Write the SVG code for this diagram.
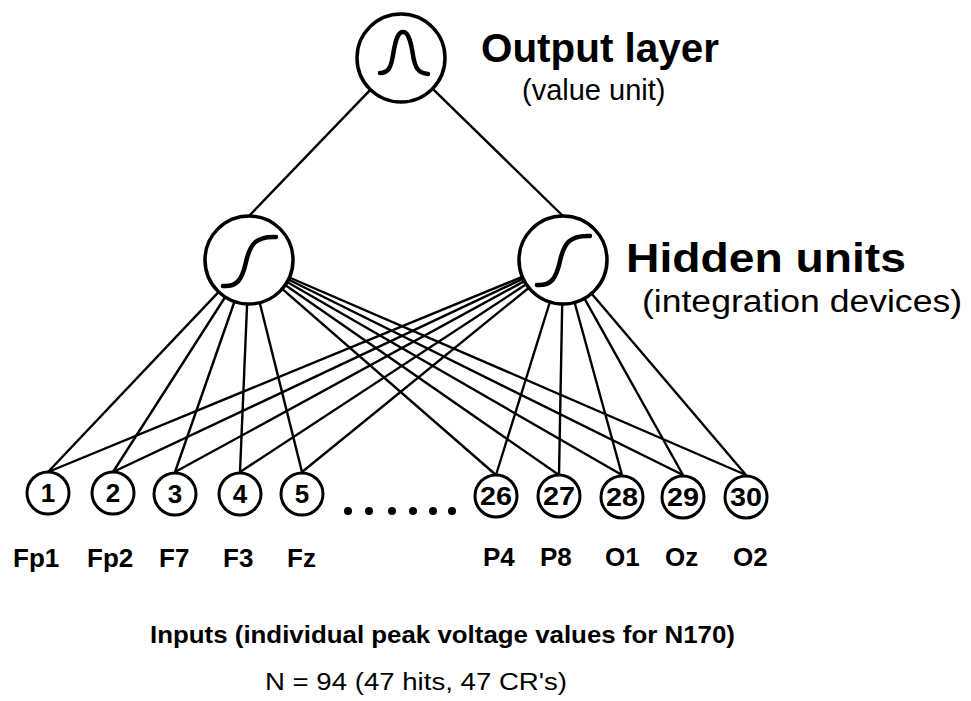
<svg xmlns="http://www.w3.org/2000/svg" width="971" height="701" viewBox="0 0 971 701">
<style>
.big{fill:#fff;stroke:#000;stroke-width:3.5}
.small{fill:#fff;stroke:#000;stroke-width:3}
.fn{fill:none;stroke:#000;stroke-width:4.5;stroke-linecap:round;stroke-linejoin:round}
.num{font-family:"Liberation Sans",Arial,sans-serif;font-weight:bold;font-size:26px;text-anchor:middle}
.lab{font-family:"Liberation Sans",Arial,sans-serif;font-weight:bold;font-size:26px}
.title{font-family:"Liberation Sans",Arial,sans-serif;font-weight:bold}
.sub{font-family:"Liberation Sans",Arial,sans-serif}
#connectors line{stroke:#000;stroke-width:2.4}
</style>
<rect width="971" height="701" fill="#fff"/>
<g id="connectors">
<line x1="370.5" y1="89.7" x2="249" y2="216"/>
<line x1="432.5" y1="88.7" x2="563" y2="216"/>
<line x1="218.7" y1="291.9" x2="48" y2="472"/>
<line x1="225.2" y1="297" x2="113" y2="472"/>
<line x1="234.5" y1="301.5" x2="175" y2="472"/>
<line x1="247.1" y1="304" x2="240" y2="472"/>
<line x1="259.7" y1="302.7" x2="302" y2="472"/>
<line x1="282.2" y1="288.9" x2="496" y2="475"/>
<line x1="285.2" y1="285.1" x2="559" y2="475"/>
<line x1="287.1" y1="282" x2="622" y2="475"/>
<line x1="288.4" y1="279.5" x2="683" y2="475"/>
<line x1="289.4" y1="277.5" x2="746" y2="475"/>
<line x1="522.3" y1="276.8" x2="48" y2="472"/>
<line x1="523.2" y1="278.7" x2="113" y2="472"/>
<line x1="524.4" y1="281.1" x2="175" y2="472"/>
<line x1="526.2" y1="284.2" x2="240" y2="472"/>
<line x1="528.9" y1="287.7" x2="302" y2="472"/>
<line x1="549.9" y1="302" x2="496" y2="475"/>
<line x1="562.2" y1="304" x2="559" y2="475"/>
<line x1="574.6" y1="302.5" x2="622" y2="475"/>
<line x1="584.4" y1="298.4" x2="683" y2="475"/>
<line x1="591.5" y1="293.5" x2="746" y2="475"/>
</g>
<g id="output">
<circle class="big" cx="401" cy="58" r="44"/>
<path class="fn" d="M380,73 C388,73 391,68 393,55 C396,36 399,32 403,32 C407,32 410,36 413,55 C415,68 418,73 428,74"/>
<text class="title" x="481" y="62" font-size="41" textLength="238" lengthAdjust="spacingAndGlyphs">Output layer</text>
<text class="sub" x="522" y="100" font-size="29">(value unit)</text>
</g>
<g id="hidden1">
<circle class="big" cx="249" cy="260" r="44"/>
<path class="fn" d="M223,286 C237,287 242,280 246,262 C250,244 256,236 276,237"/>
</g>
<g id="hidden2">
<circle class="big" cx="563" cy="260" r="44"/>
<path class="fn" d="M537,285 C551,286 556,279 560,261 C564,243 570,235 590,236"/>
<text class="title" x="626" y="272" font-size="40" textLength="280" lengthAdjust="spacingAndGlyphs">Hidden units</text>
<text class="sub" x="642" y="312" font-size="31" textLength="320" lengthAdjust="spacingAndGlyphs">(integration devices)</text>
</g>
<g id="in1"><circle class="small" cx="48" cy="493" r="21"/><text class="num" x="48" y="502">1</text></g>
<g id="in2"><circle class="small" cx="113" cy="493" r="21"/><text class="num" x="113" y="502">2</text></g>
<g id="in3"><circle class="small" cx="175" cy="494" r="21"/><text class="num" x="175" y="503">3</text></g>
<g id="in4"><circle class="small" cx="240" cy="494" r="21"/><text class="num" x="240" y="503">4</text></g>
<g id="in5"><circle class="small" cx="302" cy="494" r="21"/><text class="num" x="302" y="503">5</text></g>
<g id="ellipsis">
<circle cx="348" cy="511" r="4"/><circle cx="369" cy="511" r="4"/><circle cx="392" cy="511" r="4"/><circle cx="413" cy="511" r="4"/><circle cx="433" cy="511" r="4"/><circle cx="452" cy="511" r="4"/>
</g>
<g id="in26"><circle class="small" cx="496" cy="496" r="21"/><text class="num" x="496" y="505" textLength="32" lengthAdjust="spacingAndGlyphs">26</text></g>
<g id="in27"><circle class="small" cx="559" cy="496" r="21"/><text class="num" x="559" y="505" textLength="32" lengthAdjust="spacingAndGlyphs">27</text></g>
<g id="in28"><circle class="small" cx="622" cy="497" r="21"/><text class="num" x="622" y="506" textLength="32" lengthAdjust="spacingAndGlyphs">28</text></g>
<g id="in29"><circle class="small" cx="683" cy="497" r="21"/><text class="num" x="683" y="506" textLength="32" lengthAdjust="spacingAndGlyphs">29</text></g>
<g id="in30"><circle class="small" cx="746" cy="497" r="21"/><text class="num" x="746" y="506" textLength="32" lengthAdjust="spacingAndGlyphs">30</text></g>
<g id="labels">
<text class="lab" x="13" y="567">Fp1</text>
<text class="lab" x="87" y="567">Fp2</text>
<text class="lab" x="159" y="567">F7</text>
<text class="lab" x="223" y="567">F3</text>
<text class="lab" x="287" y="567">Fz</text>
<text class="lab" x="483" y="566">P4</text>
<text class="lab" x="540" y="566">P8</text>
<text class="lab" x="605" y="566">O1</text>
<text class="lab" x="665" y="566">Oz</text>
<text class="lab" x="733" y="566">O2</text>
</g>
<g id="caption">
<text class="title" x="150" y="643" font-size="24" textLength="585" lengthAdjust="spacingAndGlyphs">Inputs (individual peak voltage values for N170)</text>
<text class="sub" x="265" y="690" font-size="23" textLength="302" lengthAdjust="spacingAndGlyphs">N = 94 (47 hits, 47 CR's)</text>
</g>
</svg>
